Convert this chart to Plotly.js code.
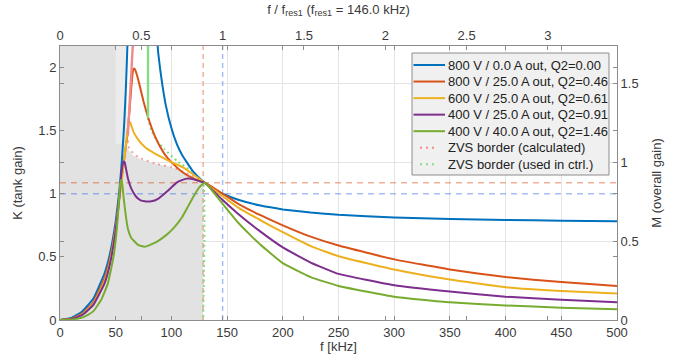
<!DOCTYPE html>
<html>
<head>
<meta charset="utf-8">
<script src="https://cdn.plot.ly/plotly-3.0.1.min.js"></script>
<style>html,body{margin:0;padding:0;background:#fff;}#chart{width:675px;height:354px;}</style>
</head>
<body>
<div id="chart"></div>
<script>
// ---------- data ----------
const seriesNames = [
  "800 V / 0.0 A out, Q2=0.00",
  "800 V / 25.0 A out, Q2=0.46",
  "600 V / 25.0 A out, Q2=0.61",
  "400 V / 25.0 A out, Q2=0.91",
  "400 V / 40.0 A out, Q2=1.46"
];
const zvsNames = ["ZVS border (calculated)", "ZVS border (used in ctrl.)"];
const seriesColors = ["#0072BD", "#D95319", "#EDB120", "#7E2F8E", "#77AC30"];
const zvsColors = ["#f08a8a", "#84dc84"];

const blueF = [0,10,20,30,40,45,50,53,55,57,58,59,60,60.5,61,61.5,85,86.5,88,90,92,95,100,105,110,120,130,140,146,160,180,200,225,250,300,350,400,450,500];
const blueK = [0,0.016,0.068,0.17,0.37,0.53,0.78,1.0,1.2,1.46,1.62,1.81,2.04,2.17,2.31,null,2.44,2.3,2.13,1.98,1.855,1.70,1.52,1.39,1.30,1.17,1.086,1.027,1.0,0.952,0.906,0.876,0.851,0.833,0.812,0.80,0.792,0.787,0.783];

const orangeF = [0,10,20,30,40,45,50,53,56,58,60,61,62,63,64,65,66,67,68,70,72,75,80,85,90,95,100,110,120,130,146,160,180,200,225,250,300,350,400,450,500];
const orangeK = [0,0.01,0.05,0.14,0.33,0.49,0.74,0.95,1.17,1.30,1.43,1.52,1.62,1.73,1.84,1.94,1.99,1.99,1.97,1.91,1.84,1.73,1.58,1.46,1.37,1.30,1.25,1.17,1.12,1.087,1.0,0.92,0.83,0.75,0.66,0.59,0.48,0.40,0.34,0.30,0.27];

const yellowF = [0,10,20,30,40,45,50,53,56,58,60,61,62,63,64,66,70,75,80,85,90,100,110,120,130,146,160,180,200,225,250,300,350,400,450,500];
const yellowK = [0,0.008,0.045,0.13,0.31,0.47,0.72,0.93,1.15,1.30,1.45,1.53,1.57,1.565,1.54,1.49,1.43,1.38,1.345,1.32,1.295,1.25,1.21,1.15,1.087,0.98,0.89,0.79,0.695,0.585,0.505,0.40,0.32,0.26,0.23,0.21];

const purpleF = [0,10,20,30,40,45,50,53,55,56,57,58,59,61,64,68,72,76,82,88,95,100,105,110,115,120,125,130,146,160,180,200,225,250,300,350,400,450,500];
const purpleK = [0,0.006,0.04,0.12,0.29,0.45,0.71,0.95,1.15,1.22,1.256,1.25,1.21,1.12,1.04,0.98,0.95,0.94,0.94,0.96,1.01,1.05,1.09,1.11,1.12,1.115,1.10,1.087,0.95,0.84,0.70,0.575,0.455,0.365,0.275,0.225,0.185,0.16,0.14];

const greenF = [0,10,20,25,30,37,43,48,51,53,54,55,56,57,59,61,64,70,76,85,95,100,105,110,115,120,125,130,146,160,170,180,200,225,250,300,350,400,450,500];
const greenK = [0,0.003,0.02,0.04,0.07,0.16,0.29,0.5,0.72,0.95,1.08,1.11,1.07,0.98,0.83,0.72,0.65,0.595,0.58,0.61,0.67,0.71,0.76,0.82,0.90,0.98,1.05,1.087,0.92,0.77,0.68,0.595,0.45,0.34,0.27,0.185,0.14,0.115,0.098,0.085];

// ZVS borders
const zvsCalcTopF = [65.5, 61];
const zvsCalcTopK = [2.2, 1.47];
const zvsCalcF = [61,62,70,85,100,115,128];
const zvsCalcK = [1.47,1.36,1.29,1.24,1.21,1.16,1.09];
const zvsCtrlTopF = [79, 79];
const zvsCtrlTopK = [2.2, 1.6];
const zvsCtrlF = [79,82,87,94,105,118,128.5,128.5];
const zvsCtrlK = [1.6,1.5,1.42,1.35,1.26,1.18,1.09,0];

// grey (no-ZVS) region outline
const regionF = [0,0,50,50,58,61,66,73,85,100,115,128.5,128.5];
const regionK = [0,2.17,2.17,1.4,1.4,1.35,1.30,1.27,1.24,1.21,1.16,1.09,0];
const lightRegionF = [50,50,60,60];
const lightRegionK = [1.4,2.17,2.17,1.4];

// reference lines
const fRes1 = 146.0;
const fZvs = 128.5;
const kRes = 1.0;
const kZvs = 1.087;

// axis settings
const fMax = 500;
const kMax = 2.17;
const mMax = 1.74;
const topTicks = [0,0.5,1,1.5,2,2.5,3];

// ---------- traces ----------
const traces = [];
traces.push({x: regionF, y: regionK, type: 'scatter', mode: 'lines', fill: 'toself',
  fillcolor: '#e2e2e2', line: {width: 0}, showlegend: false, hoverinfo: 'skip'});
traces.push({x: lightRegionF, y: lightRegionK, type: 'scatter', mode: 'lines', fill: 'toself',
  fillcolor: '#ececec', line: {width: 0}, showlegend: false, hoverinfo: 'skip'});

// dashed reference lines
const oRef = 'rgba(217,83,25,0.45)', bRef = 'rgba(60,110,230,0.45)';
traces.push({x: [fZvs, fZvs], y: [0, kMax], mode: 'lines', line: {color: oRef, width: 1.5, dash: '5px,4px'}, hoverinfo: 'skip'});
traces.push({x: [fRes1, fRes1], y: [0, kMax], mode: 'lines', line: {color: bRef, width: 1.5, dash: '5px,4px'}, hoverinfo: 'skip'});
traces.push({x: [0, fMax], y: [kZvs, kZvs], mode: 'lines', line: {color: oRef, width: 1.5, dash: '6px,5px'}, hoverinfo: 'skip'});
traces.push({x: [0, fMax], y: [kRes, kRes], mode: 'lines', line: {color: bRef, width: 1.5, dash: '6px,5px'}, hoverinfo: 'skip'});

// ZVS borders drawn under the gain curves
traces.push({x: zvsCalcF, y: zvsCalcK, mode: 'lines', line: {color: 'rgba(240,138,138,0.8)', width: 2, dash: '2px,4px', shape: 'spline', smoothing: 0.5}, hoverinfo: 'skip'});
traces.push({x: zvsCtrlF, y: zvsCtrlK, mode: 'lines', line: {color: zvsColors[1], width: 2, dash: '2px,3px', shape: 'spline', smoothing: 0.3}, hoverinfo: 'skip'});

const data = [[blueF, blueK],[orangeF, orangeK],[yellowF, yellowK],[purpleF, purpleK],[greenF, greenK]];
data.forEach((d, i) => {
  traces.push({x: d[0], y: d[1], type: 'scatter', mode: 'lines', name: seriesNames[i],
    line: {color: seriesColors[i], width: 2, shape: 'spline', smoothing: 0.35},
    connectgaps: false});
});

// vertical parts of the ZVS borders (on top)
traces.push({x: zvsCalcTopF, y: zvsCalcTopK, mode: 'lines', line: {color: zvsColors[0], width: 2.4}, hoverinfo: 'skip'});
traces.push({x: zvsCtrlTopF, y: zvsCtrlTopK, mode: 'lines', line: {color: zvsColors[1], width: 2.4}, hoverinfo: 'skip'});

// dummy trace to create the top / right axes
traces.push({x: [0], y: [0], xaxis: 'x2', yaxis: 'y2', mode: 'markers', marker: {opacity: 0}, hoverinfo: 'skip'});

// ---------- legend (drawn as shapes + text) ----------
const plotL = 60, plotR = 617, plotT = 46, plotB = 320;
const px = v => (v - plotL) / (plotR - plotL);
const py = v => (plotB - v) / (plotB - plotT);
const legBox = {l: 412, r: 609, t: 53, b: 175};
const legRow0 = 65, legRowStep = 16.55;
const shapes = [{type: 'rect', xref: 'paper', yref: 'paper', x0: px(legBox.l), x1: px(legBox.r),
  y0: py(legBox.b), y1: py(legBox.t), fillcolor: '#f0f0f0', line: {color: '#8c8c8c', width: 1}, layer: 'above'}];
const annotations = [];
const legLabels = seriesNames.concat(zvsNames);
const legColors = seriesColors.concat(zvsColors);
legLabels.forEach((lab, i) => {
  const yy = legRow0 + i * legRowStep;
  const dotted = i >= seriesNames.length;
  shapes.push({type: 'line', xref: 'paper', yref: 'paper', layer: 'above',
    x0: px(dotted ? 420 : 413.5), x1: px(dotted ? 434 : 445), y0: py(yy), y1: py(yy),
    line: {color: legColors[i], width: 2, dash: dotted ? '2px,4px' : 'solid'}});
  annotations.push({xref: 'paper', yref: 'paper', x: px(445.5), y: py(yy), xanchor: 'left', yanchor: 'middle',
    text: lab, showarrow: false, font: {family: 'Liberation Sans, Arial, sans-serif', size: 13, color: '#222'}});
});

const axisCommon = {
  showline: true, linecolor: '#8c8c8c', linewidth: 1,
  ticks: 'inside', ticklen: 4, tickcolor: '#8c8c8c',
  tickfont: {family: 'Liberation Sans, Arial, sans-serif', size: 13, color: '#3a3a3a'},
  zeroline: false, fixedrange: true
};

const layout = {
  width: 675, height: 354,
  margin: {l: plotL, r: 675 - plotR, t: plotT, b: 354 - plotB},
  paper_bgcolor: '#ffffff', plot_bgcolor: '#ffffff',
  font: {family: 'Liberation Sans, Arial, sans-serif', size: 13, color: '#3a3a3a'},
  showlegend: false,
  shapes: shapes,
  annotations: annotations,
  xaxis: Object.assign({}, axisCommon, {
    range: [0, fMax], dtick: 50, tick0: 0, showgrid: true, gridcolor: '#e4e4e4',
    mirror: 'ticks',
    title: {text: 'f [kHz]', standoff: 2, font: {size: 13, color: '#3a3a3a'}}
  }),
  xaxis2: Object.assign({}, axisCommon, {
    range: [0, fMax / fRes1], overlaying: 'x', side: 'top', tickvals: topTicks,
    ticktext: topTicks.map(String), showgrid: false, mirror: 'ticks',
    title: {text: 'f / f<sub>res1</sub> (f<sub>res1</sub> = 146.0 kHz)', standoff: 10, font: {size: 13, color: '#3a3a3a'}}
  }),
  yaxis: Object.assign({}, axisCommon, {
    range: [0, kMax], dtick: 0.5, tick0: 0, showgrid: false, mirror: 'ticks',
    title: {text: 'K (tank gain)', standoff: 12, font: {size: 13, color: '#3a3a3a'}}
  }),
  yaxis2: Object.assign({}, axisCommon, {
    range: [0, mMax], dtick: 0.5, tick0: 0, overlaying: 'y', side: 'right',
    showgrid: true, gridcolor: '#e4e4e4', mirror: 'ticks',
    title: {text: 'M (overall gain)', standoff: 14, font: {size: 13, color: '#3a3a3a'}}
  })
};

Plotly.newPlot('chart', traces, layout, {displayModeBar: false, staticPlot: true});
</script>
</body>
</html>
